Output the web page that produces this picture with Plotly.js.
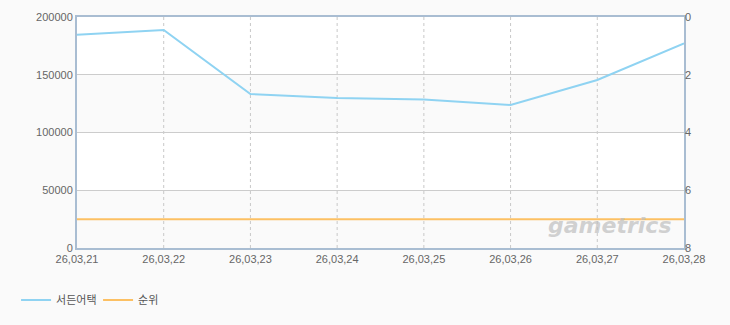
<!DOCTYPE html>
<html><head><meta charset="utf-8">
<script src="https://cdn.plot.ly/plotly-3.0.1.min.js"></script>
<style>body{margin:0;background:#fafafa;}#c{width:730px;height:325px;}</style>
</head><body><div id="c"></div>
<script>
const dates = ["26,03,21","26,03,22","26,03,23","26,03,24","26,03,25","26,03,26","26,03,27","26,03,28"];
const viewers = [184700, 188700, 133300, 129900, 128600, 123800, 145500, 177200];
const ranks = [7, 7, 7, 7, 7, 7, 7, 7];
const seriesNames = ["서든어택", "순위"];
const leftTicks = [0, 50000, 100000, 150000, 200000];
const rightTicks = [0, 2, 4, 6, 8];

const bands = [];
for (let i = 0; i < leftTicks.length - 1; i++) {
  bands.push({type:'rect', xref:'paper', yref:'y', x0:0, x1:1, y0:leftTicks[i], y1:leftTicks[i+1],
    fillcolor: i % 2 === 0 ? '#fafafa' : '#ffffff', line:{width:0}, layer:'below'});
}
const vlines = dates.slice(1, -1).map(d => ({type:'line', xref:'x', yref:'paper', x0:d, x1:d, y0:0, y1:1,
  line:{color:'#c8c8c8', width:1, dash:'3px,3px'}, layer:'below'}));

const traces = [
  {x:dates, y:viewers, name:seriesNames[0], type:'scatter', mode:'lines',
   line:{color:'#8fd3f2', width:2}, yaxis:'y'},
  {x:dates, y:ranks, name:seriesNames[1], type:'scatter', mode:'lines',
   line:{color:'#fcc063', width:2}, yaxis:'y2'}
];
const font = {family:'"Liberation Sans", Arial, sans-serif', size:11, color:'#666'};
const layout = {
  width:730, height:325, paper_bgcolor:'#fafafa', plot_bgcolor:'#ffffff',
  margin:{l:77, r:46, t:17, b:77, autoexpand:false},
  font:font, showlegend:true,
  legend:{orientation:'h', xref:'container', yref:'container', x:0.022, y:0.077, xanchor:'left', yanchor:'middle',
    font:{family:'"Noto Sans CJK KR", sans-serif', size:11, color:'#555'}, itemwidth:30, entrywidth:37, entrywidthmode:'pixels', tracegroupgap:0},
  xaxis:{type:'category', range:[0, dates.length-1], showgrid:false, zeroline:false,
    showline:true, linecolor:'#a9bdd2', linewidth:2, mirror:true, ticks:'', tickfont:font, fixedrange:true},
  yaxis:{range:[0,200000], tickvals:leftTicks, ticktext:leftTicks.map(String), showgrid:true, gridcolor:'#cccccc', gridwidth:1,
    zeroline:false, showline:true, linecolor:'#a9bdd2', linewidth:2, mirror:true, ticks:'', tickfont:font},
  yaxis2:{overlaying:'y', side:'right', range:[8,0], tickvals:rightTicks, showgrid:false, zeroline:false,
    showline:false, ticks:'', tickfont:font},
  shapes: bands.concat(vlines),
  annotations:[{xref:'paper', yref:'paper', x:0.982, y:0.035, xanchor:'right', yanchor:'bottom', text:'<b><i>gametrics</i></b>',
    showarrow:false, font:{family:'"DejaVu Sans", sans-serif', size:22, color:'rgba(190,190,190,0.7)'}}]
};
Plotly.newPlot('c', traces, layout, {displayModeBar:false, staticPlot:true});
</script></body></html>
